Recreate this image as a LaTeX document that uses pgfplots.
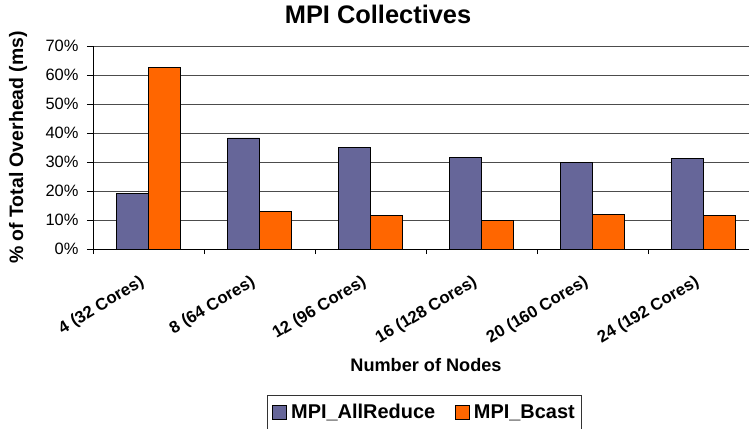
\documentclass[border=0pt]{standalone}
\usepackage{fontspec}
\setmainfont{Liberation Sans}
\usepackage{pgfplots}
\pgfplotsset{compat=1.18}
\definecolor{allred}{HTML}{666699}
\definecolor{bcast}{HTML}{FF6600}
\begin{document}
\begin{tikzpicture}
\begin{axis}[
  at={(93bp,180bp)}, anchor=south west,
  width=666bp, height=203bp, scale only axis,
  xmin=-0.5, xmax=5.5, ymin=0, ymax=70,
  axis x line*=bottom, axis y line*=left,
  axis line style={black, line width=0.8bp},
  xtick={0,1,2,3,4,5},
  xticklabels={4 (32 Cores),8 (64 Cores),12 (96 Cores),16 (128 Cores),20 (160 Cores),24 (192 Cores)},
  major x tick style={draw=none},
  minor xtick={-0.5,0.5,1.5,2.5,3.5,4.5,5.5},
  minor tick length=5bp,
  minor x tick style={black, line width=0.8bp},
  tick align=outside,
  ytick={0,10,...,70},
  major tick length=6bp,
  major y tick style={black, line width=0.8bp},
  yticklabel={\pgfmathprintnumber{\tick}\%},
  /pgf/number format/assume math mode=true,
  ymajorgrids,
  major grid style={black!70, line width=0.8bp},
  yticklabel style={font=\fontsize{16.5}{18}\selectfont, xshift=-5bp},
  xticklabel style={font=\bfseries\fontsize{16.8}{18}\selectfont, rotate=31, anchor=north east, xshift=-15bp, yshift=-8bp},
  xlabel={Number of Nodes},
  xlabel style={font=\bfseries\fontsize{18.2}{20}\selectfont, at={(axis description cs:0.5,-0.571)}, anchor=center},
  ylabel={\% of Total Overhead (ms)},
  ylabel style={font=\bfseries\fontsize{19.5}{21}\selectfont, at={(axis description cs:-0.1126,0.5)}, anchor=center},
  title={MPI Collectives},
  title style={font=\bfseries\fontsize{25.5}{27}\selectfont, at={(axis description cs:0.428,1.128)}, anchor=center},
  legend columns=2,
  legend style={at={(axis description cs:0.2613,-0.719)}, anchor=north west,
    font=\bfseries\fontsize{20}{22}\selectfont, draw=black!80, line width=0.8bp,
    inner xsep=5bp, inner ysep=7bp,
    nodes={inner xsep=2bp},
    /tikz/every odd column/.append style={column sep=2bp},
    /tikz/every even column/.append style={column sep=18bp}},
]
\addplot[ybar, bar width=32bp, bar shift=-16bp, fill=allred, draw=black, line width=0.8bp,
  legend image code/.code={\draw[fill=allred, draw=black, line width=0.8bp] (0bp,-7bp) rectangle (14bp,7bp);}]
  coordinates {(0,19.2) (1,38.3) (2,34.9) (3,31.6) (4,30.0) (5,31.1)};
\addlegendentry{MPI\_AllReduce}
\addplot[ybar, bar width=32bp, bar shift=16bp, fill=bcast, draw=black, line width=0.8bp,
  legend image code/.code={\draw[fill=bcast, draw=black, line width=0.8bp] (0bp,-7bp) rectangle (14bp,7bp);}]
  coordinates {(0,62.6) (1,12.9) (2,11.5) (3,10.0) (4,12.0) (5,11.5)};
\addlegendentry{MPI\_Bcast}
\end{axis}
\pgfresetboundingbox
\useasboundingbox (0,0) rectangle (749bp,429bp);
\end{tikzpicture}
\end{document}
